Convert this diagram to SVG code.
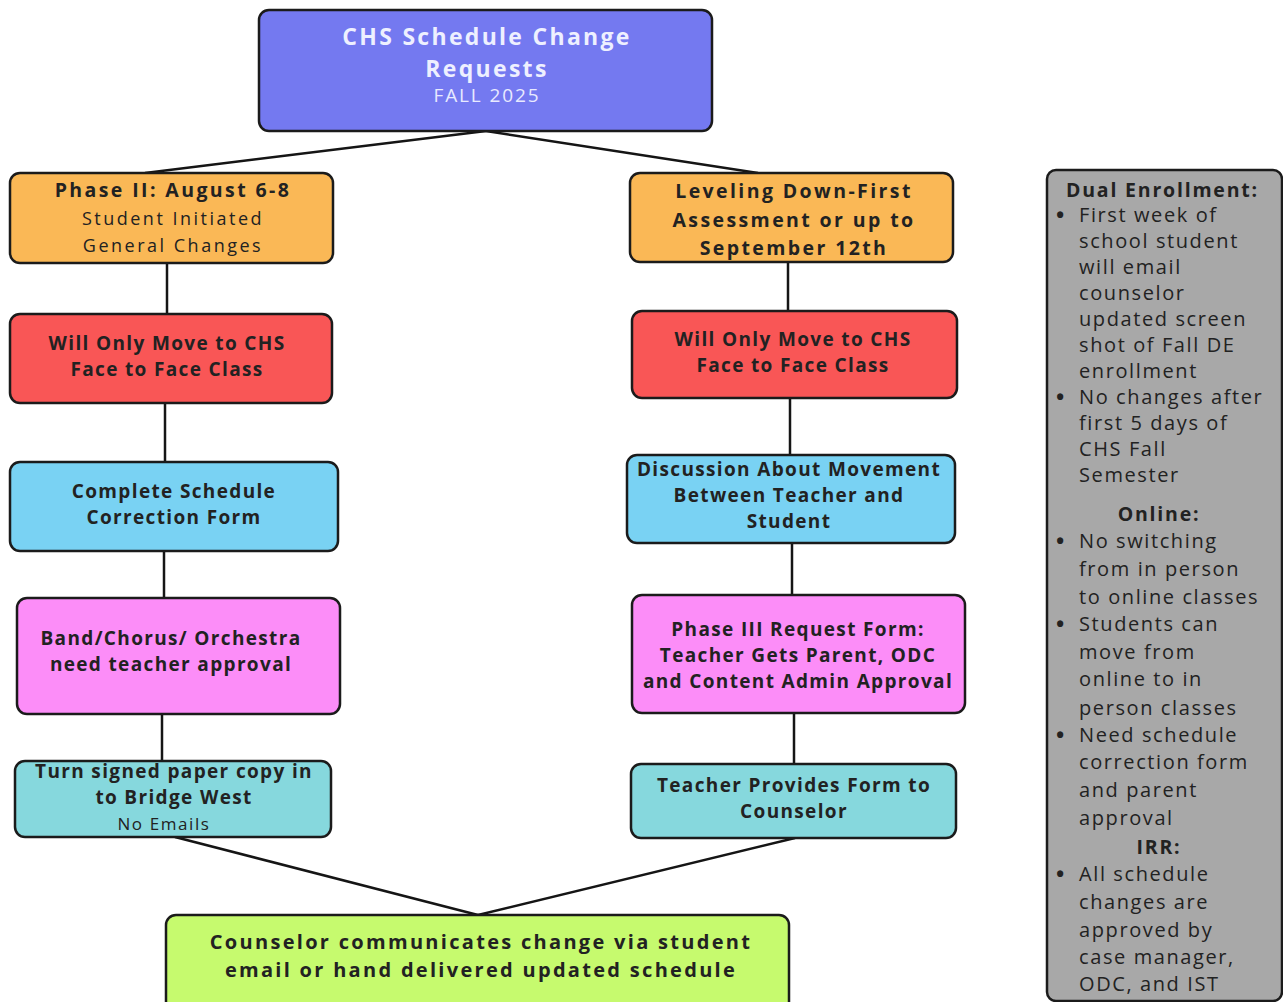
<svg xmlns="http://www.w3.org/2000/svg" width="1283" height="1002" viewBox="0 0 1283 1002">
<style>
.box{stroke:#1b1b1b;stroke-width:2.5}
.t{font-family:"Open Sans","Liberation Sans",sans-serif;text-anchor:middle;font-weight:700;font-size:19px;letter-spacing:1.35px;fill:#222}
.title{font-size:23px;letter-spacing:2.3px;fill:#eef0ff}
.fall{font-size:19px;letter-spacing:1.9px;font-weight:400;fill:#e8eaff}
.h{font-size:19.5px;letter-spacing:2.4px}
.sub{font-size:18px;letter-spacing:2.5px;font-weight:400}
.ne{font-size:17px;letter-spacing:1.6px;font-weight:400}
.g{font-size:20px;letter-spacing:2.3px}
.p{font-family:"Open Sans","Liberation Sans",sans-serif;font-size:20px;letter-spacing:1.6px;fill:#222}
.ph{font-weight:700;font-size:19.5px;letter-spacing:1.8px}
.c{text-anchor:middle}
.b{font-size:22px;font-weight:700}
.conn line{stroke:#151515;stroke-width:2.5}
</style>
<rect width="1283" height="1002" fill="#ffffff"/>
<g class="conn" id="connectors">
<line x1="486" y1="131" x2="145" y2="173"/>
<line x1="486" y1="131" x2="758" y2="173"/>
<line x1="167" y1="263" x2="167" y2="314"/>
<line x1="165" y1="403" x2="165" y2="462"/>
<line x1="164" y1="551" x2="164" y2="598"/>
<line x1="162" y1="714" x2="162" y2="761"/>
<line x1="788" y1="262" x2="788" y2="311"/>
<line x1="790" y1="398" x2="790" y2="455"/>
<line x1="792" y1="543" x2="792" y2="595"/>
<line x1="794" y1="713" x2="794" y2="764"/>
<line x1="175" y1="837" x2="478" y2="915"/>
<line x1="795" y1="838" x2="478" y2="915"/>
</g>
<g id="title">
<rect class="box" x="259" y="10" width="453" height="121" rx="10" fill="#7479F0" stroke="#1b1d45"/>
<text class="t title" x="487" y="45">CHS Schedule Change</text>
<text class="t title" x="487" y="77">Requests</text>
<text class="t fall" x="487" y="102">FALL 2025</text>
</g>
<g id="phase2">
<rect class="box" x="10" y="173" width="323" height="90" rx="10" fill="#FAB856"/>
<text class="t h" x="173" y="197" fill="#2a1c08">Phase II: August 6-8</text>
<text class="t sub" x="173" y="225" fill="#3a2a10">Student Initiated</text>
<text class="t sub" x="173" y="252" fill="#3a2a10">General Changes</text>
</g>
<g id="left-f2f">
<rect class="box" x="10" y="314" width="322" height="89" rx="10" fill="#F95656"/>
<text class="t" x="167" y="350" fill="#2e0a0a">Will Only Move to CHS</text>
<text class="t" x="167" y="376" fill="#2e0a0a">Face to Face Class</text>
</g>
<g id="left-form">
<rect class="box" x="10" y="462" width="328" height="89" rx="10" fill="#79D2F3"/>
<text class="t" x="174" y="498" fill="#0d1a2a">Complete Schedule</text>
<text class="t" x="174" y="524" fill="#0d1a2a">Correction Form</text>
</g>
<g id="left-band">
<rect class="box" x="17" y="598" width="323" height="116" rx="10" fill="#FC8DF8"/>
<text class="t" x="171" y="645" fill="#3a0f36">Band/Chorus/ Orchestra</text>
<text class="t" x="171" y="671" fill="#3a0f36">need teacher approval</text>
</g>
<g id="left-turnin">
<rect class="box" x="15" y="761" width="316" height="76" rx="10" fill="#86D8DD"/>
<text class="t" x="174" y="778" fill="#0d2224">Turn signed paper copy in</text>
<text class="t" x="174" y="804" fill="#0d2224">to Bridge West</text>
<text class="t ne" x="164" y="830" fill="#1d3a3c">No Emails</text>
</g>
<g id="leveling">
<rect class="box" x="630" y="173" width="323" height="89" rx="10" fill="#FAB856"/>
<text class="t h" x="794" y="198" fill="#2a1c08">Leveling Down-First</text>
<text class="t h" x="794" y="227" fill="#2a1c08">Assessment or up to</text>
<text class="t h" x="794" y="255" fill="#2a1c08">September 12th</text>
</g>
<g id="right-f2f">
<rect class="box" x="632" y="311" width="325" height="87" rx="10" fill="#F95656"/>
<text class="t" x="793" y="346" fill="#2e0a0a">Will Only Move to CHS</text>
<text class="t" x="793" y="372" fill="#2e0a0a">Face to Face Class</text>
</g>
<g id="right-discussion">
<rect class="box" x="627" y="455" width="328" height="88" rx="10" fill="#79D2F3"/>
<text class="t" x="789" y="476" fill="#0d1a2a">Discussion About Movement</text>
<text class="t" x="789" y="502" fill="#0d1a2a">Between Teacher and</text>
<text class="t" x="789" y="528" fill="#0d1a2a">Student</text>
</g>
<g id="right-phase3">
<rect class="box" x="632" y="595" width="333" height="118" rx="10" fill="#FC8DF8"/>
<text class="t" x="798" y="636" fill="#3a0f36">Phase III Request Form:</text>
<text class="t" x="798" y="662" fill="#3a0f36">Teacher Gets Parent, ODC</text>
<text class="t" x="798" y="688" fill="#3a0f36">and Content Admin Approval</text>
</g>
<g id="right-teacher">
<rect class="box" x="631" y="764" width="325" height="74" rx="10" fill="#86D8DD"/>
<text class="t" x="794" y="792" fill="#0d2224">Teacher Provides Form to</text>
<text class="t" x="794" y="818" fill="#0d2224">Counselor</text>
</g>
<g id="counselor">
<rect class="box" x="166" y="915" width="623" height="100" rx="10" fill="#C6FA6E"/>
<text class="t g" x="481" y="949" fill="#15200a">Counselor communicates change via student</text>
<text class="t g" x="481" y="977" fill="#15200a">email or hand delivered updated schedule</text>
</g>
<g id="notes">
<rect class="box" x="1047" y="170" width="235" height="831" rx="9" fill="#A8A8A8" stroke="#2a2a2a"/>
<g class="p">
<text class="ph" x="1066" y="197">Dual Enrollment:</text>
<text class="b" x="1056" y="223">•</text><text x="1079" y="222">First week of</text>
<text x="1079" y="248">school student</text>
<text x="1079" y="274">will email</text>
<text x="1079" y="300">counselor</text>
<text x="1079" y="326">updated screen</text>
<text x="1079" y="352">shot of Fall DE</text>
<text x="1079" y="378">enrollment</text>
<text class="b" x="1056" y="405">•</text><text x="1079" y="404">No changes after</text>
<text x="1079" y="430">first 5 days of</text>
<text x="1079" y="456">CHS Fall</text>
<text x="1079" y="482">Semester</text>
<text class="ph c" x="1159" y="521">Online:</text>
<text class="b" x="1056" y="549">•</text><text x="1079" y="548">No switching</text>
<text x="1079" y="576">from in person</text>
<text x="1079" y="604">to online classes</text>
<text class="b" x="1056" y="632">•</text><text x="1079" y="631">Students can</text>
<text x="1079" y="659">move from</text>
<text x="1079" y="686">online to in</text>
<text x="1079" y="715">person classes</text>
<text class="b" x="1056" y="743">•</text><text x="1079" y="742">Need schedule</text>
<text x="1079" y="769">correction form</text>
<text x="1079" y="797">and parent</text>
<text x="1079" y="825">approval</text>
<text class="ph c" x="1159" y="854">IRR:</text>
<text class="b" x="1056" y="882">•</text><text x="1079" y="881">All schedule</text>
<text x="1079" y="909">changes are</text>
<text x="1079" y="937">approved by</text>
<text x="1079" y="964">case manager,</text>
<text x="1079" y="991">ODC, and IST</text>
</g>
</g>
</svg>
